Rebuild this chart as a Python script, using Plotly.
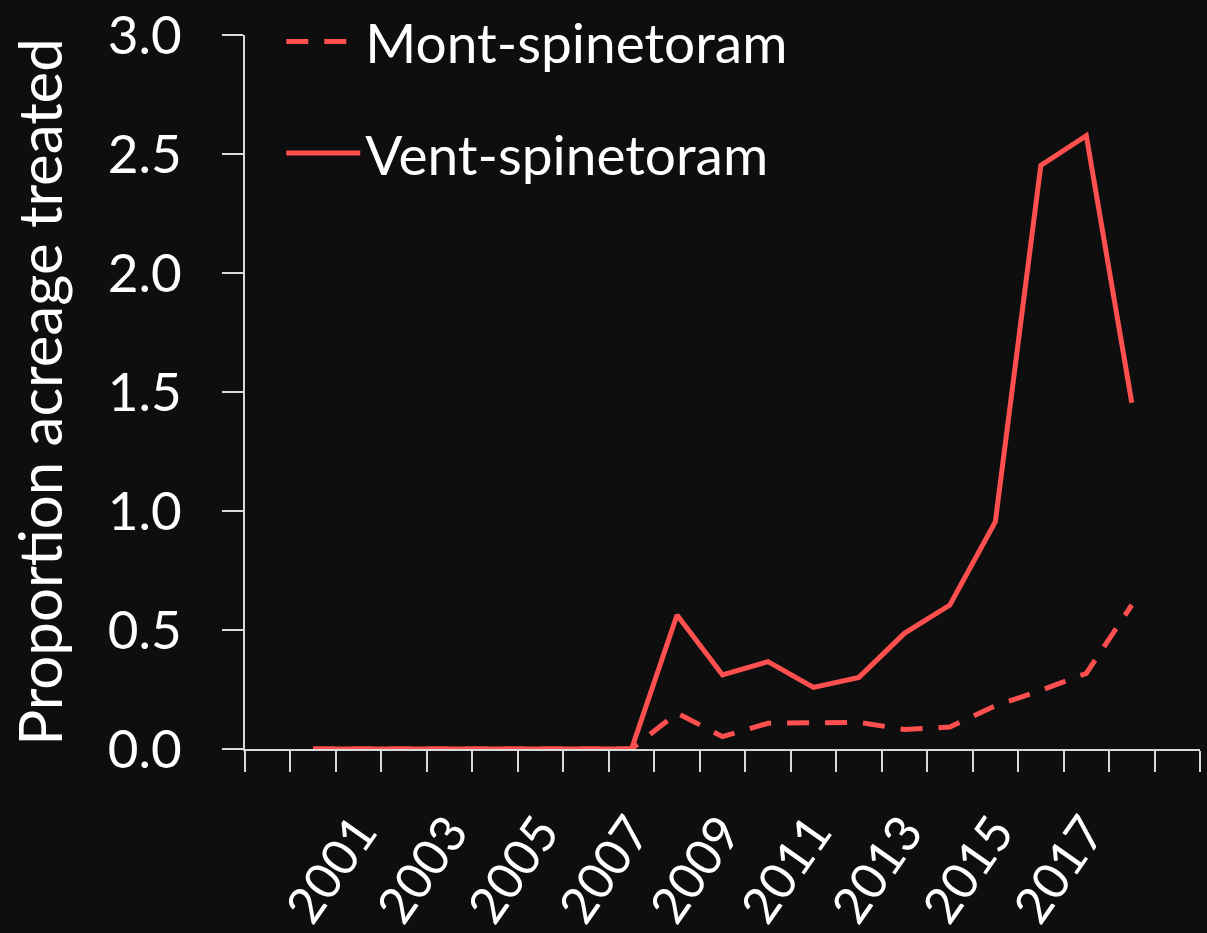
import plotly.graph_objects as go

years = list(range(2000, 2019))
mont_spinetoram = [0, 0, 0, 0, 0, 0, 0, 0,
                   0.151, 0.052, 0.108, 0.112, 0.112, 0.082, 0.092, 0.182, 0.246, 0.318, 0.605]
vent_spinetoram = [0, 0, 0, 0, 0, 0, 0, 0,
                   0.563, 0.311, 0.367, 0.259, 0.301, 0.486, 0.605, 0.955, 2.452, 2.577, 1.455]
label_years = [2001, 2003, 2005, 2007, 2009, 2011, 2013, 2015, 2017]
y_ticks = [0, 0.5, 1.0, 1.5, 2.0, 2.5, 3.0]

LINE = "#FF4F4F"
BG = "#0E0E0E"
AX = "#D9D9D9"
FONT = "Lato"

fig = go.Figure()
fig.add_trace(go.Scatter(
    x=years, y=mont_spinetoram, mode="lines", name="Mont-spinetoram",
    line=dict(color=LINE, width=5, dash="22px,16px"), legendgroup="m"))
fig.add_trace(go.Scatter(
    x=years, y=vent_spinetoram, mode="lines", name="Vent-spinetoram",
    line=dict(color=LINE, width=5), legendgroup="v"))

fig.update_layout(
    width=1207, height=933,
    margin=dict(l=245, r=7, t=35, b=184, pad=0, autoexpand=False),
    paper_bgcolor=BG, plot_bgcolor=BG,
    font=dict(family=FONT, size=54, color="white"),
    legend=dict(x=0.038, y=1.05, xanchor="left", yanchor="top",
                bgcolor="rgba(0,0,0,0)", font=dict(size=55, color="white"),
                tracegroupgap=37, itemwidth=74, traceorder="grouped"),
    xaxis=dict(range=[1998.5, 2019.5], tickmode="array", tickvals=label_years,
               ticktext=[str(v) for v in label_years], tickangle=-55,
               ticks="", showgrid=False, zeroline=False,
               showline=True, linecolor=AX, linewidth=1.5,
               ticklabelstandoff=32, ticklabeloverflow="allow",
               minor=dict(tick0=1998.5, dtick=1, ticks="outside", ticklen=21,
                          tickwidth=1.5, tickcolor=AX, showgrid=False),
               tickfont=dict(size=50, color="white")),
    yaxis=dict(range=[0, 3], tickmode="array", tickvals=y_ticks,
               tickformat=".1f", ticks="outside", ticklen=21, tickwidth=1.5,
               tickcolor=AX, showline=True, linecolor=AX, linewidth=1.5,
               showgrid=False, zeroline=False, ticklabelstandoff=30,
               ticklabeloverflow="allow",
               tickfont=dict(size=53, color="white"),
               title=dict(text="Proportion acreage treated", standoff=26,
                          font=dict(size=60, color="white"))),
)

fig.write_html(
    "out.html",
    config={"displayModeBar": False},
    post_script="document.body.style.margin='0';document.body.style.background='#0E0E0E';",
)
